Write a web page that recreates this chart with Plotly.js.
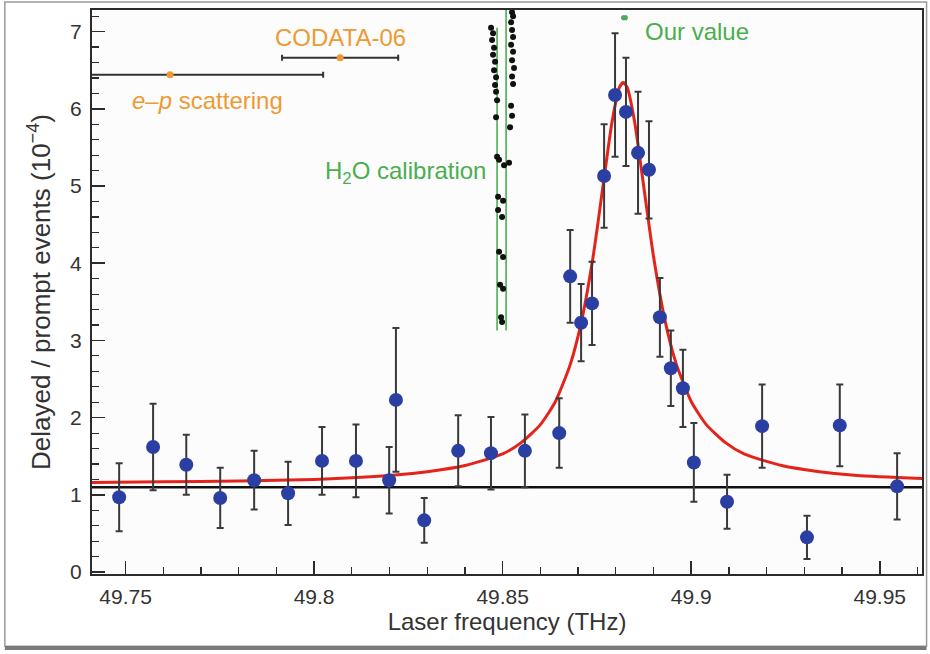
<!DOCTYPE html>
<html>
<head>
<meta charset="utf-8">
<script src="https://cdn.plot.ly/plotly-3.0.1.min.js"></script>
<style>
  html, body { margin: 0; padding: 0; background: #ffffff; }
  #chart { width: 930px; height: 654px; }
</style>
</head>
<body>
<div id="chart"></div>
<script>
// Resonance scan: delayed/prompt event ratio vs laser frequency
const freq = [49.7483, 49.7573, 49.7661, 49.7751, 49.7841, 49.7931, 49.8021, 49.8111,
              49.8199, 49.8217, 49.8292, 49.8382, 49.8469, 49.8559, 49.8650, 49.8679,
              49.8708, 49.8737, 49.8769, 49.8798, 49.8827, 49.8859, 49.8888, 49.8917,
              49.8946, 49.8978, 49.9007, 49.9095, 49.9188, 49.9307, 49.9394, 49.9546];
const ratio = [0.97, 1.62, 1.39, 0.96, 1.19, 1.02, 1.44, 1.44,
               1.19, 2.23, 0.67, 1.57, 1.54, 1.57, 1.80, 3.83,
               3.23, 3.48, 5.13, 6.18, 5.96, 5.43, 5.21, 3.30,
               2.64, 2.38, 1.42, 0.91, 1.89, 0.45, 1.90, 1.11];
const ratioErr = [0.44, 0.56, 0.39, 0.39, 0.38, 0.41, 0.44, 0.47,
                  0.43, 0.93, 0.29, 0.46, 0.47, 0.47, 0.45, 0.60,
                  0.50, 0.54, 0.67, 0.80, 0.70, 0.79, 0.63, 0.51,
                  0.49, 0.50, 0.51, 0.35, 0.54, 0.28, 0.53, 0.43];

// Fitted resonance line (sampled along the drawn curve)
const fitX = [49.741, 49.760, 49.780, 49.800, 49.820, 49.830, 49.840, 49.850, 49.855,
              49.860, 49.864, 49.868, 49.871, 49.874, 49.877, 49.879, 49.881, 49.882,
              49.883, 49.885, 49.887, 49.890, 49.893, 49.896, 49.900, 49.904, 49.909,
              49.914, 49.924, 49.934, 49.944, 49.962];
const fitY = [1.16, 1.17, 1.18, 1.20, 1.25, 1.30, 1.38, 1.53, 1.68,
              1.91, 2.21, 2.70, 3.27, 4.09, 5.14, 5.83, 6.28, 6.34,
              6.28, 5.83, 5.14, 4.09, 3.27, 2.70, 2.21, 1.91, 1.68,
              1.53, 1.38, 1.30, 1.25, 1.21];

// Flat background level
const background = 1.10;

// Earlier determinations of the transition frequency
const refFreq = [49.7618, 49.8069];
const refErr = [0.0406, 0.0154];
const refRow = [6.44, 6.66];

// Our value (tiny marker at the top of the frame)
const ourFreq = [49.8823];
const ourRow = [7.18];
const ourErr = [0.0006];

// H2O calibration measurements
const calX = [49.84692, 49.84745, 49.84719, 49.84772, 49.84745, 49.84798, 49.84772, 49.84825,
              49.84798, 49.84825, 49.84852, 49.84825, 49.84852,
              49.85249, 49.85276, 49.85223, 49.85249, 49.85276, 49.85223, 49.85276, 49.85249,
              49.85302, 49.85249, 49.85276, 49.85223, 49.85249, 49.85196, 49.85170,
              49.84905, 49.85037, 49.84878, 49.85011, 49.84878, 49.84984, 49.84905, 49.85011,
              49.84931, 49.85011, 49.84958, 49.84984];
const calY = [7.05, 6.98, 6.89, 6.79, 6.70, 6.61, 6.50, 6.41,
              6.31, 6.22, 6.11, 5.89, 5.38,
              7.25, 7.20, 7.12, 7.02, 6.93, 6.83, 6.74, 6.63,
              6.53, 6.42, 6.32, 6.04, 5.91, 5.76, 5.30,
              5.34, 5.27, 4.86, 4.81, 4.69, 4.60, 4.15, 4.08,
              3.72, 3.67, 3.30, 3.24];
const calLineX = [49.84852, 49.85091];
const calLineTop = [7.05, 7.28];
const calLineBottom = 3.13;

// Axes
const xRange = [49.7411, 49.9612];
const yRange = [-0.025, 7.28];
const xTickVals = [49.75, 49.8, 49.85, 49.9, 49.95];
const xTickText = ['49.75', '49.8', '49.85', '49.9', '49.95'];
const yTickVals = [0, 1, 2, 3, 4, 5, 6, 7];
const yTickText = ['0', '1', '2', '3', '4', '5', '6', '7'];

const orange = '#ee9a33';
const green = '#4aae4f';
const ink = '#2b2b2b';
const FONT = 'Liberation Sans, Arial, Helvetica, sans-serif';

const traces = [];

// calibration lines
calLineX.forEach((x, i) => {
  traces.push({
    x: [x, x], y: [calLineBottom, calLineTop[i]],
    mode: 'lines', line: {color: green, width: 1.6},
    hoverinfo: 'skip', showlegend: false
  });
});
traces.push({
  x: calX, y: calY, mode: 'markers',
  marker: {color: '#111111', size: 6},
  hoverinfo: 'skip', showlegend: false
});

// background level
traces.push({
  x: xRange, y: [background, background], mode: 'lines',
  line: {color: '#111111', width: 2.5}, hoverinfo: 'skip', showlegend: false
});

// fit
traces.push({
  x: fitX, y: fitY, mode: 'lines',
  line: {color: '#e4241b', width: 3, shape: 'spline', smoothing: 0.6},
  hoverinfo: 'skip', showlegend: false
});

// data with error bars
traces.push({
  x: freq, y: ratio, mode: 'markers',
  marker: {color: '#2b3fa3', size: 14},
  error_y: {type: 'data', array: ratioErr, visible: true, color: '#3a3a3a', thickness: 2, width: 3.5},
  showlegend: false
});

// previous determinations
traces.push({
  x: refFreq, y: refRow, mode: 'markers',
  marker: {color: orange, size: 7},
  error_x: {type: 'data', array: refErr, visible: true, color: '#333333', thickness: 2, width: 3},
  showlegend: false
});

// our value
traces.push({
  x: ourFreq, y: ourRow, mode: 'markers',
  marker: {color: green, size: 5, symbol: 'square'},
  error_x: {type: 'data', array: ourErr, visible: true, color: '#333333', thickness: 1.5, width: 1.5},
  showlegend: false
});

const annotations = [
  {x: 49.7716, y: 6.11, text: '<i>e</i>–<i>p</i> scattering', font: {color: orange, size: 24}},
  {x: 49.8069, y: 6.92, text: 'CODATA-06', font: {color: orange, size: 24}},
  {x: 49.8461, y: 5.18, text: 'H<sub>2</sub>O calibration', xanchor: 'right', font: {color: green, size: 24}},
  {x: 49.8872, y: 7.00, text: 'Our value', xanchor: 'left', font: {color: green, size: 24}}
].map(a => Object.assign({xref: 'x', yref: 'y', showarrow: false, xanchor: 'center', yanchor: 'middle'}, a, {font: Object.assign({family: FONT}, a.font)}));

const layout = {
  width: 930, height: 654,
  margin: {l: 92, r: 8, t: 10, b: 80},
  paper_bgcolor: '#ffffff',
  plot_bgcolor: '#fcfcfc',
  font: {family: FONT, color: '#333333', size: 21},
  showlegend: false,
  xaxis: {
    range: xRange, tickmode: 'array', tickvals: xTickVals, ticktext: xTickText,
    ticks: 'inside', ticklen: 13, tickwidth: 1.5, tickcolor: ink,
    minor: {tick0: 49.75, dtick: 0.01, ticks: 'inside', ticklen: 7, tickwidth: 1.2, tickcolor: ink, showgrid: false},
    showline: true, linecolor: ink, linewidth: 2, mirror: true,
    showgrid: false, zeroline: false,
    ticklabelstandoff: 3,
    tickfont: {size: 21, color: '#333333'},
    title: {text: 'Laser frequency (THz)', font: {size: 24, color: '#333333'}, standoff: 6}
  },
  yaxis: {
    range: yRange, tickmode: 'array', tickvals: yTickVals, ticktext: yTickText,
    ticks: 'inside', ticklen: 13, tickwidth: 1.5, tickcolor: ink,
    minor: {tick0: 0, dtick: 0.2, ticks: 'inside', ticklen: 7, tickwidth: 1.2, tickcolor: ink, showgrid: false},
    showline: true, linecolor: ink, linewidth: 2, mirror: true,
    showgrid: false, zeroline: false,
    ticklabelstandoff: 4,
    tickfont: {size: 21, color: '#333333'},
    title: {text: 'Delayed / prompt events (10<sup>−4</sup>)', font: {size: 26, color: '#333333'}, standoff: 12}
  },
  annotations: annotations,
  shapes: [
    {type: 'rect', xref: 'paper', yref: 'paper', x0: -0.105, x1: 1.0055, y0: -0.128, y1: 1.014,
     line: {color: '#9a9a9a', width: 1.5}, layer: 'below'},
    {type: 'line', xref: 'paper', yref: 'paper', x0: -0.105, x1: 1.0055, y0: -0.131, y1: -0.131,
     line: {color: '#7a7a7a', width: 4}}
  ]
};

Plotly.newPlot('chart', traces, layout, {displayModeBar: false, staticPlot: true});
</script>
</body>
</html>
